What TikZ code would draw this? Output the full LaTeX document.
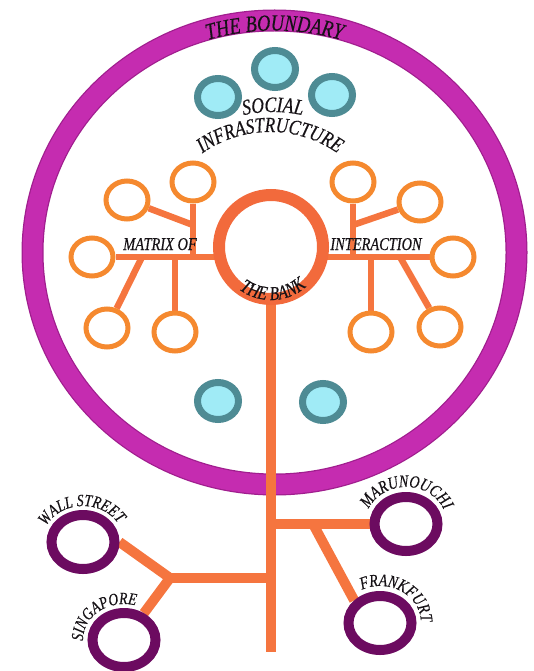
\documentclass[tikz,border=0pt]{standalone}
\usepackage{fontspec}
\newfontfamily\cfont{Liberation Serif}[FakeStretch=0.8, FakeBold=0.4]
\usetikzlibrary{positioning,shapes.geometric,backgrounds,decorations.text}
\definecolor{cbound}{HTML}{C52CB0}
\definecolor{cboundedge}{HTML}{A01E8E}
\definecolor{cbank}{HTML}{F26A3C}
\definecolor{cstem}{HTML}{F5753F}
\definecolor{cleaf}{HTML}{F5892F}
\definecolor{csocfill}{HTML}{A0EBF6}
\definecolor{csocline}{HTML}{4E8B94}
\definecolor{ccity}{HTML}{6C0B60}
\definecolor{cink}{HTML}{161216}
\tikzset{
  bank/.style={circle, draw=cbank, line width=12pt, fill=white, minimum size=104pt, inner sep=0pt},
  leaf/.style={ellipse, draw=cleaf, line width=5pt, fill=white, minimum width=42pt, minimum height=38pt, inner sep=0pt},
  social/.style={ellipse, draw=csocline, line width=7pt, fill=csocfill, minimum width=41pt, minimum height=37pt, inner sep=0pt},
  city/.style={ellipse, draw=ccity, line width=10pt, fill=white, minimum width=63pt, minimum height=54pt, inner sep=0pt},
  branch/.style={draw=cstem, line width=6.5pt},
  root/.style={draw=cstem, line width=10pt},
  arctext/.style={decorate, decoration={text along path, text align=center, text={#1}}},
  flat/.style={font=\cfont\itshape\fontsize{18}{18}\selectfont, text=cink, inner sep=0pt}
}
\begin{document}
\begin{tikzpicture}[x=1pt, y=1pt]
  \useasboundingbox (0,0) rectangle (534,-671);
  % the bank with its matrix of interaction
  \node[bank] (bank) at (271,-247) {};
  \node[leaf] (ml1) at (127,-200) {};
  \node[leaf] (ml2) at (193,-182) {};
  \node[leaf] (ml3) at (92,-257) {};
  \node[leaf] (ml4) at (107,-328) {};
  \node[leaf] (ml5) at (175,-332) {};
  \node[leaf] (mr1) at (353,-182) {};
  \node[leaf] (mr2) at (420,-202) {};
  \node[leaf] (mr3) at (453,-257) {};
  \node[leaf] (mr4) at (440,-327) {};
  \node[leaf] (mr5) at (371,-332) {};
  \coordinate (jl1) at (193,-225);
  \coordinate (jl2) at (142,-257);
  \coordinate (jr1) at (353,-225);
  \coordinate (jr2) at (400,-257);
  \node[flat, anchor=base] (matrixlbl) at (160,-250) {MATRIX OF};
  \node[flat, anchor=base] (interlbl) at (376,-250) {INTERACTION};
  % social infrastructure
  \node[social] (s1) at (218,-97) {};
  \node[social] (s2) at (275,-69) {};
  \node[social] (s3) at (332,-95) {};
  \node[social] (s4) at (218,-401) {};
  \node[social] (s5) at (323,-402) {};
  % financial centres
  \node[city] (wall) at (83,-542) {};
  \node[city] (sing) at (124,-640) {};
  \node[city] (maru) at (406,-524) {};
  \node[city] (frank) at (380,-623) {};
  \coordinate (stemend) at (271,-652);
  \coordinate (jb1) at (271,-524);
  \coordinate (jb2) at (313,-524);
  \coordinate (jb3) at (271,-578);
  \coordinate (jb4) at (170,-578);
  \begin{scope}[on background layer]
    \draw[cboundedge, line width=22pt] (274.5,-252.5) ellipse [x radius=242, y radius=232];
    \draw[cbound, line width=19.5pt] (274.5,-252.5) ellipse [x radius=242, y radius=232];
    \draw[branch] (ml3) -- (ml3 -| bank);
    \draw[branch] (ml1) -- (jl1);
    \draw[branch] (ml2) -- (ml2 |- ml3);
    \draw[branch] (jl2) -- (ml4);
    \draw[branch] (ml5) -- (ml5 |- ml3);
    \draw[branch] (mr3) -- (mr3 -| bank);
    \draw[branch] (jr1) -- (mr2);
    \draw[branch] (mr1) -- (mr1 |- mr3);
    \draw[branch] (jr2) -- (mr4);
    \draw[branch] (mr5) -- (mr5 |- mr3);
    \draw[root] (bank) -- (stemend);
    \draw[root] (jb1) -- (maru);
    \draw[root] (jb2) -- (frank.north west);
    \draw[root] (jb3) -- (jb4);
    \draw[root] (jb4) -- (wall.east);
    \draw[root] (jb4) -- (sing);
  \end{scope}
  % curved labels
  \path[arctext={|\cfont\itshape\fontsize{23}{23}\selectfont\color{cink}|THE BOUNDARY}]
    (274.5,-252.5) ++(112:232 and 222) arc[start angle=112, end angle=68, x radius=232, y radius=222];
  \path[arctext={|\cfont\itshape\fontsize{22}{22}\selectfont\color{cink}|SOCIAL}]
    (273,-250) ++(114:138) arc[start angle=114, end angle=66, radius=138];
  \path[arctext={|\cfont\itshape\fontsize{21.5}{21.5}\selectfont\color{cink}|INFRASTRUCTURE}]
    (270,-250) ++(145:118) arc[start angle=145, end angle=35, radius=118];
  \path[arctext={|\cfont\itshape\fontsize{19.5}{19.5}\selectfont\color{cink}|THE BANK}]
    (bank) ++(205:53) arc[start angle=205, end angle=340, radius=53];
  \path[arctext={|\cfont\itshape\fontsize{17}{17}\selectfont\color{cink}|WALL STREET}]
    (wall) ++(175:41 and 36) arc[start angle=175, end angle=10, x radius=41, y radius=36];
  \path[arctext={|\cfont\itshape\fontsize{17}{17}\selectfont\color{cink}|SINGAPORE}]
    (sing) ++(205:41 and 36) arc[start angle=205, end angle=52, x radius=41, y radius=36];
  \path[arctext={|\cfont\itshape\fontsize{17.5}{17.5}\selectfont\color{cink}|MARUNOUCHI}]
    (maru) ++(178:41 and 37) arc[start angle=178, end angle=0, x radius=41, y radius=37];
  \path[arctext={|\cfont\itshape\fontsize{17.5}{17.5}\selectfont\color{cink}|FRANKFURT}]
    (frank) ++(132:41 and 37) arc[start angle=132, end angle=-16, x radius=41, y radius=37];
\end{tikzpicture}
\end{document}
